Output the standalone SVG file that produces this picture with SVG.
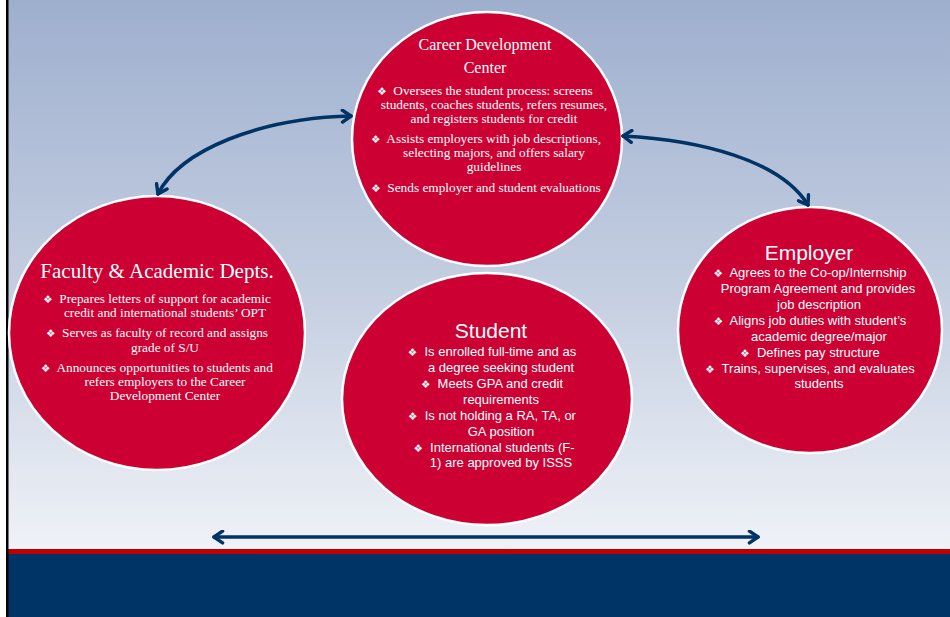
<svg xmlns="http://www.w3.org/2000/svg" width="950" height="617" viewBox="0 0 950 617">
<defs>
<linearGradient id="bg" x1="0" y1="0" x2="0" y2="1">
<stop offset="0" stop-color="#9eafce"/>
<stop offset="0.55" stop-color="#c6d0e2"/>
<stop offset="1" stop-color="#eff2f7"/>
</linearGradient>
<marker id="ah" viewBox="0 0 12 14" refX="10" refY="7" markerWidth="13" markerHeight="15" markerUnits="userSpaceOnUse" orient="auto-start-reverse">
<path d="M2,1.5 L10,7 L2,12.5" fill="none" stroke="#003366" stroke-width="3.2" stroke-linecap="round" stroke-linejoin="round"/>
</marker>
</defs>
<style>
.node ellipse{fill:#cc0033;stroke:#ffffff;stroke-width:2.5}
.serif{font-family:"Liberation Serif","Times New Roman",serif;fill:#ffffff;text-anchor:middle}
.sans{font-family:"Liberation Sans",Arial,sans-serif;fill:#ffffff;text-anchor:middle}
.s13{font-size:13.3px}
.t13{font-size:13px}
.b{font-family:"DejaVu Sans",sans-serif;font-size:10.5px}
.conn path{fill:none;stroke:#003366;stroke-width:3.6;stroke-linecap:round;marker-start:url(#ah);marker-end:url(#ah)}
</style>
<rect x="0" y="0" width="950" height="617" fill="#ffffff"/>
<rect x="8" y="0" width="942" height="549" fill="url(#bg)"/>
<rect x="8" y="549" width="942" height="5" fill="#c00000"/>
<rect x="8" y="554" width="942" height="63" fill="#003366"/>
<rect x="6" y="0" width="2.5" height="617" fill="#000000"/>

<g id="career-development-center" class="node">
<ellipse cx="487" cy="139" rx="135" ry="127"/>
<text class="serif" font-size="16px" x="485" y="50">Career Development</text>
<text class="serif" font-size="16px" x="485" y="73">Center</text>
<text class="serif s13" x="485" y="95"><tspan class="b">❖</tspan>&#160; Oversees the student process: screens</text>
<text class="serif s13" x="494" y="109">students, coaches students, refers resumes,</text>
<text class="serif s13" x="494" y="123">and registers students for credit</text>
<text class="serif s13" x="486" y="143"><tspan class="b">❖</tspan>&#160; Assists employers with job descriptions,</text>
<text class="serif s13" x="494" y="157">selecting majors, and offers salary</text>
<text class="serif s13" x="494" y="171">guidelines</text>
<text class="serif s13" x="486" y="192"><tspan class="b">❖</tspan>&#160; Sends employer and student evaluations</text>
</g>

<g id="faculty-academic-depts" class="node">
<ellipse cx="157" cy="333" rx="148" ry="137"/>
<text class="serif" font-size="21px" x="157" y="278">Faculty &amp; Academic Depts.</text>
<text class="serif s13" x="157" y="303"><tspan class="b">❖</tspan>&#160; Prepares letters of support for academic</text>
<text class="serif s13" x="165" y="317">credit and international students’ OPT</text>
<text class="serif s13" x="157" y="337"><tspan class="b">❖</tspan>&#160; Serves as faculty of record and assigns</text>
<text class="serif s13" x="165" y="352">grade of S/U</text>
<text class="serif s13" x="157" y="372"><tspan class="b">❖</tspan>&#160; Announces opportunities to students and</text>
<text class="serif s13" x="165" y="386">refers employers to the Career</text>
<text class="serif s13" x="165" y="400">Development Center</text>
</g>

<g id="student" class="node">
<ellipse cx="487" cy="399" rx="145" ry="126"/>
<text class="sans" font-size="21px" x="491" y="338">Student</text>
<text class="sans t13" x="492" y="356"><tspan class="b">❖</tspan>&#160; Is enrolled full-time and as</text>
<text class="sans t13" x="501" y="372">a degree seeking student</text>
<text class="sans t13" x="492" y="388"><tspan class="b">❖</tspan>&#160; Meets GPA and credit</text>
<text class="sans t13" x="501" y="404">requirements</text>
<text class="sans t13" x="492" y="420"><tspan class="b">❖</tspan>&#160; Is not holding a RA, TA, or</text>
<text class="sans t13" x="501" y="436">GA position</text>
<text class="sans t13" x="494" y="452"><tspan class="b">❖</tspan>&#160; International students (F-</text>
<text class="sans t13" x="501" y="467">1) are approved by ISSS</text>
</g>

<g id="employer" class="node">
<ellipse cx="810" cy="330" rx="132" ry="123"/>
<text class="sans" font-size="21px" x="809" y="260">Employer</text>
<text class="sans t13" x="810" y="277"><tspan class="b">❖</tspan>&#160; Agrees to the Co-op/Internship</text>
<text class="sans t13" x="818" y="293">Program Agreement and provides</text>
<text class="sans t13" x="819" y="309">job description</text>
<text class="sans t13" x="810" y="325"><tspan class="b">❖</tspan>&#160; Aligns job duties with student’s</text>
<text class="sans t13" x="819" y="341">academic degree/major</text>
<text class="sans t13" x="810" y="357"><tspan class="b">❖</tspan>&#160; Defines pay structure</text>
<text class="sans t13" x="810" y="373"><tspan class="b">❖</tspan>&#160; Trains, supervises, and evaluates</text>
<text class="sans t13" x="819" y="388">students</text>
</g>

<g id="connectors" class="conn">
<path d="M158,194 C180,150 260,118 351,116"/>
<path d="M623,136 C700,140 780,160 808,205"/>
<path d="M214,537 L758,537"/>
</g>
</svg>
